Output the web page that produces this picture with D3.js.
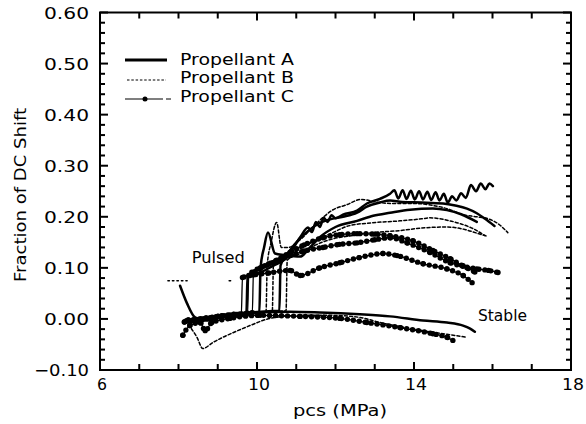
<!DOCTYPE html>
<html>
<head>
<meta charset="utf-8">
<script src="https://cdn.jsdelivr.net/npm/d3@7"></script>
<style>
  html, body { margin: 0; padding: 0; background: #fff; }
  svg { display: block; }
  text { font-family: "DejaVu Sans", sans-serif; fill: #000; }
</style>
</head>
<body>
<svg id="chart" width="586" height="424"></svg>
<script>
// ---- axis ticks and labels ----
const xMinorTicks = [7, 8, 9, 11, 12, 13, 15, 16, 17];
const xMajorTicks = [6, 10, 14, 18];
const yMajorTicks = [-0.1, 0, 0.1, 0.2, 0.3, 0.4, 0.5, 0.6];
const yMinorTicks = [-0.08, -0.06, -0.04, -0.02, 0.02, 0.04, 0.06, 0.08, 0.12, 0.14, 0.16, 0.18,
  0.22, 0.24, 0.26, 0.28, 0.32, 0.34, 0.36, 0.38, 0.42, 0.44, 0.46, 0.48, 0.52, 0.54, 0.56, 0.58];
const propellants = ["Propellant A", "Propellant B", "Propellant C"];

// ---- test runs: [pcs (MPa), fraction of DC shift] ----
// Propellant A
const aStable = [[8.04,0.065],[8.22,0.03],[8.42,0.003],[8.68,-0.003],[9.06,0.003],[9.57,0.009],[10.08,0.013],[10.84,0.014],[11.6,0.0125],[12.62,0.009],[13.39,0.005],[14.23,-0.003],[14.84,-0.007],[15.25,-0.013],[15.43,-0.019],[15.55,-0.025]];
const aPulsed1 = [[8.25,-0.004],[8.6,0.0],[9.0,0.004],[9.4,0.008],[9.73,0.011],[9.76,0.085],[10.08,0.091],[10.41,0.104],[10.76,0.12],[11.1,0.16],[11.3,0.179],[11.4,0.17],[11.5,0.19],[11.6,0.18],[11.7,0.198],[11.8,0.19],[11.9,0.203],[12.0,0.197],[12.19,0.204],[12.55,0.212],[12.8,0.226],[13.13,0.235],[13.39,0.245],[13.5,0.252],[13.6,0.236],[13.71,0.252],[13.81,0.235],[13.92,0.251],[14.02,0.234],[14.13,0.25],[14.23,0.234],[14.34,0.249],[14.44,0.233],[14.55,0.248],[14.65,0.232],[14.76,0.245],[14.86,0.228],[14.97,0.24],[15.08,0.232],[15.2,0.246],[15.32,0.237],[15.45,0.262],[15.58,0.25],[15.7,0.265],[15.82,0.254],[15.92,0.265],[16.01,0.26]];
const aPulsed2 = [[8.3,-0.002],[8.7,0.002],[9.1,0.006],[9.5,0.01],[9.9,0.013],[10.3,0.015],[10.57,0.016],[10.6,0.105],[10.8,0.13],[11.1,0.158],[11.35,0.175],[11.6,0.188],[11.86,0.195],[12.19,0.2],[12.55,0.208],[12.8,0.22],[13.13,0.228],[13.39,0.232],[13.7,0.229],[14.2,0.228],[14.74,0.226],[15.05,0.222],[15.35,0.216],[15.6,0.207],[15.81,0.196],[16.05,0.182]];
const aPulsed3 = [[8.2,-0.006],[8.6,-0.002],[9.0,0.003],[9.4,0.007],[9.8,0.011],[10.06,0.013],[10.09,0.1],[10.18,0.14],[10.28,0.169],[10.46,0.128],[10.7,0.125],[11.1,0.122],[11.35,0.14],[11.6,0.16],[12.0,0.18],[12.55,0.192],[12.96,0.202],[13.39,0.208],[13.9,0.214],[14.48,0.216],[14.84,0.213],[15.2,0.205],[15.6,0.19]];
// Propellant B
const bStable = [[8.17,-0.003],[8.47,-0.036],[8.62,-0.058],[8.88,-0.046],[9.13,-0.036],[9.39,-0.027],[9.82,-0.013],[10.33,0.001],[11.1,0.007],[11.86,0.007],[12.62,0.003],[13.13,-0.007],[13.64,-0.015],[14.23,-0.023],[14.84,-0.03],[15.35,-0.036]];
const bPulsed1 = [[8.25,-0.003],[8.7,0.001],[9.1,0.005],[9.5,0.009],[9.9,0.012],[10.23,0.014],[10.26,0.105],[10.36,0.15],[10.5,0.189],[10.62,0.14],[10.8,0.14],[11.1,0.155],[11.4,0.178],[11.7,0.2],[11.9,0.212],[12.3,0.224],[12.65,0.234],[13.1,0.228],[13.5,0.226],[14.0,0.226],[14.5,0.222],[14.84,0.216],[15.25,0.204],[15.6,0.2],[15.89,0.196],[16.15,0.186],[16.39,0.169]];
const bPulsed2 = [[8.3,-0.001],[8.8,0.004],[9.3,0.008],[9.8,0.012],[10.39,0.015],[10.42,0.11],[10.7,0.12],[11.0,0.133],[11.4,0.15],[11.9,0.168],[12.37,0.183],[12.9,0.188],[13.64,0.192],[14.2,0.196],[14.41,0.198],[14.92,0.192],[15.2,0.186],[15.5,0.177],[15.81,0.163]];
const bPulsed3 = [[8.2,-0.004],[8.6,-0.001],[9.0,0.004],[9.5,0.009],[10.0,0.012],[10.5,0.015],[10.74,0.016],[10.77,0.115],[11.1,0.128],[11.5,0.145],[11.94,0.157],[12.4,0.163],[12.8,0.168],[13.64,0.173],[14.2,0.178],[14.84,0.18],[15.3,0.175],[15.6,0.168],[15.86,0.162]];
const bLevel = [[7.73,0.075],[8.22,0.075],null,[9.29,0.075],[9.38,0.075]];
// Propellant C
const cStable = [[8.11,-0.032],[8.29,-0.013],[8.55,-0.007],[8.68,-0.023],[8.85,-0.007],[9.31,0.001],[10.08,0.007],[11.1,0.005],[12.11,0.001],[12.8,-0.007],[13.64,-0.017],[14.48,-0.029],[14.84,-0.036],[14.99,-0.042]];
const cPulsed1 = [[8.2,-0.004],[8.6,0.0],[9.0,0.005],[9.4,0.009],[9.88,0.012],[9.91,0.09],[10.1,0.1],[10.5,0.115],[10.84,0.13],[11.2,0.145],[11.68,0.159],[12.1,0.165],[12.55,0.167],[13.0,0.166],[13.39,0.163],[13.97,0.153],[14.48,0.134],[14.92,0.118],[15.25,0.104],[15.6,0.098],[15.9,0.095],[16.14,0.091]];
const cPulsed2 = [[8.25,-0.002],[8.7,0.002],[9.1,0.006],[9.5,0.009],[9.76,0.011],[9.79,0.085],[10.08,0.1],[10.4,0.11],[10.84,0.124],[11.2,0.133],[11.68,0.14],[12.1,0.146],[12.55,0.149],[13.0,0.155],[13.39,0.159],[13.82,0.149],[14.41,0.13],[14.92,0.11],[15.35,0.1],[15.55,0.092]];
const cPulsed3 = [[8.15,-0.006],[8.5,-0.003],[8.9,0.002],[9.3,0.006],[9.6,0.009],[9.63,0.081],[9.9,0.086],[10.3,0.09],[10.84,0.095],[11.1,0.085],[11.6,0.1],[12.11,0.11],[12.6,0.12],[13.21,0.128],[13.57,0.124],[14.23,0.108],[14.84,0.098],[15.25,0.085],[15.48,0.071]];

// region labels
const regionLabels = [
  { text: "Pulsed", x: 8.34, y: 0.11, width: 53 },
  { text: "Stable", x: 15.63, y: -0.004, width: 49 }
];

// ---- styling per propellant ----
const styles = [
  { width: 2.5, dash: null, markers: false },
  { width: 1.5, dash: "3,2.2", markers: false },
  { width: 1.3, dash: null, markers: true }
];

const runs = [
  { p: 1, values: bStable }, { p: 1, values: bPulsed1 }, { p: 1, values: bPulsed2 },
  { p: 1, values: bPulsed3 }, { p: 1, values: bLevel, dash: "1.5,3" },
  { p: 2, values: cStable }, { p: 2, values: cPulsed1 }, { p: 2, values: cPulsed2 }, { p: 2, values: cPulsed3 },
  { p: 0, values: aStable }, { p: 0, values: aPulsed3 }, { p: 0, values: aPulsed2 }, { p: 0, values: aPulsed1 }
];

const svg = d3.select("#chart");
const plotLeft = 100, plotRight = 571, plotTop = 12.5, plotBottom = 370;
const x = d3.scaleLinear().domain([6, 18]).range([plotLeft, plotRight]);
const y = d3.scaleLinear().domain([-0.1, 0.6]).range([plotBottom, plotTop]);

// ---- frame and inward ticks on all four sides ----
const axisG = svg.append("g");
axisG.append("rect")
  .attr("x", plotLeft).attr("y", plotTop)
  .attr("width", plotRight - plotLeft).attr("height", plotBottom - plotTop)
  .attr("fill", "none").attr("stroke", "#000").attr("stroke-width", 2);

const tickSpecs = [
  { values: xMajorTicks, scale: x, horizontal: true, len: 8 },
  { values: xMinorTicks, scale: x, horizontal: true, len: 6 },
  { values: yMajorTicks, scale: y, horizontal: false, len: 8 },
  { values: yMinorTicks, scale: y, horizontal: false, len: 5 }
];
tickSpecs.forEach(spec => {
  spec.values.forEach(v => {
    const p = spec.scale(v);
    if (spec.horizontal) {
      axisG.append("rect").attr("x", p - 1).attr("y", plotBottom - spec.len)
        .attr("width", 2).attr("height", spec.len).attr("fill", "#000");
      axisG.append("rect").attr("x", p - 1).attr("y", plotTop)
        .attr("width", 2).attr("height", spec.len).attr("fill", "#000");
    } else {
      axisG.append("rect").attr("x", plotLeft).attr("y", p - 1)
        .attr("width", spec.len).attr("height", 2).attr("fill", "#000");
      axisG.append("rect").attr("x", plotRight - spec.len).attr("y", p - 1)
        .attr("width", spec.len).attr("height", 2).attr("fill", "#000");
    }
  });
});

// ---- data curves ----
const line = d3.line()
  .defined(d => d != null)
  .curve(d3.curveMonotoneX)
  .x(d => x(d[0]))
  .y(d => y(d[1]));

const curves = svg.append("g");
runs.forEach(run => {
  const st = styles[run.p];
  const path = curves.append("path")
    .attr("d", line(run.values))
    .attr("fill", "none")
    .attr("stroke", "#000")
    .attr("stroke-width", st.width)
    .attr("stroke-linejoin", "round")
    .attr("stroke-linecap", "round");
  const dash = run.dash || st.dash;
  if (dash) path.attr("stroke-dasharray", dash);
  if (st.markers) {
    // beads along the trace, skipping the steep step segments
    const node = path.node();
    const len = node.getTotalLength();
    const pts = [];
    for (let l = 0; l <= len; l += 6) {
      const p = node.getPointAtLength(l);
      const q = node.getPointAtLength(Math.min(l + 1, len));
      if (Math.abs(q.y - p.y) <= 2.5 * Math.abs(q.x - p.x) + 0.05) pts.push([p.x, p.y]);
    }
    run.values.filter(d => d).forEach(d => pts.push([x(d[0]), y(d[1])]));
    curves.append("g").selectAll("circle").data(pts).join("circle")
      .attr("cx", d => d[0]).attr("cy", d => d[1]).attr("r", 2.7).attr("fill", "#000");
  }
});

// ---- tick labels ----
const fmtY = d3.format(".2f");
svg.append("g").selectAll("text").data(xMajorTicks).join("text")
  .attr("x", d => x(d) + 2).attr("y", 390).attr("text-anchor", "middle")
  .attr("font-size", 16)
  .attr("textLength", d => d >= 10 ? 22 : 10).attr("lengthAdjust", "spacingAndGlyphs")
  .text(d => d);
svg.append("g").selectAll("text").data(yMajorTicks).join("text")
  .attr("x", 89).attr("y", d => y(d) + 6).attr("text-anchor", "end")
  .attr("font-size", 16)
  .attr("textLength", d => d < 0 ? 55 : 45).attr("lengthAdjust", "spacingAndGlyphs")
  .text(d => fmtY(d));

// ---- axis titles ----
svg.append("text")
  .attr("x", 340).attr("y", 416).attr("text-anchor", "middle")
  .attr("font-size", 16).attr("textLength", 94).attr("lengthAdjust", "spacingAndGlyphs")
  .text("pcs (MPa)");
svg.append("text")
  .attr("transform", "translate(26,195) rotate(-90)")
  .attr("text-anchor", "middle")
  .attr("font-size", 16).attr("textLength", 174).attr("lengthAdjust", "spacingAndGlyphs")
  .text("Fraction of DC Shift");

// ---- region labels ----
svg.append("g").selectAll("text").data(regionLabels).join("text")
  .attr("x", d => x(d.x)).attr("y", d => y(d.y))
  .attr("font-size", 16).attr("textLength", d => d.width).attr("lengthAdjust", "spacingAndGlyphs")
  .text(d => d.text);

// ---- legend ----
const legend = svg.append("g");
const legendRows = [
  { y: 60, base: 65, x1: 125, x2: 167 },
  { y: 80, base: 83.3, x1: 127, x2: 166 },
  { y: 99, base: 101.6, x1: 125, x2: 171 }
];
legendRows.forEach((r, i) => {
  const ln = legend.append("line")
    .attr("x1", r.x1).attr("x2", r.x2).attr("y1", r.y).attr("y2", r.y)
    .attr("stroke", "#000").attr("stroke-width", i === 0 ? 3 : 1.2);
  if (i === 1) ln.attr("stroke-dasharray", "2.5,1.8");
  if (i === 2) {
    ln.attr("stroke-dasharray", "38,3,5");
    legend.append("circle").attr("cx", 145).attr("cy", r.y).attr("r", 2.5).attr("fill", "#000");
  }
  legend.append("text")
    .attr("x", 180).attr("y", r.base)
    .attr("font-size", 16).attr("textLength", 114).attr("lengthAdjust", "spacingAndGlyphs")
    .text(propellants[i]);
});
</script>
</body>
</html>
